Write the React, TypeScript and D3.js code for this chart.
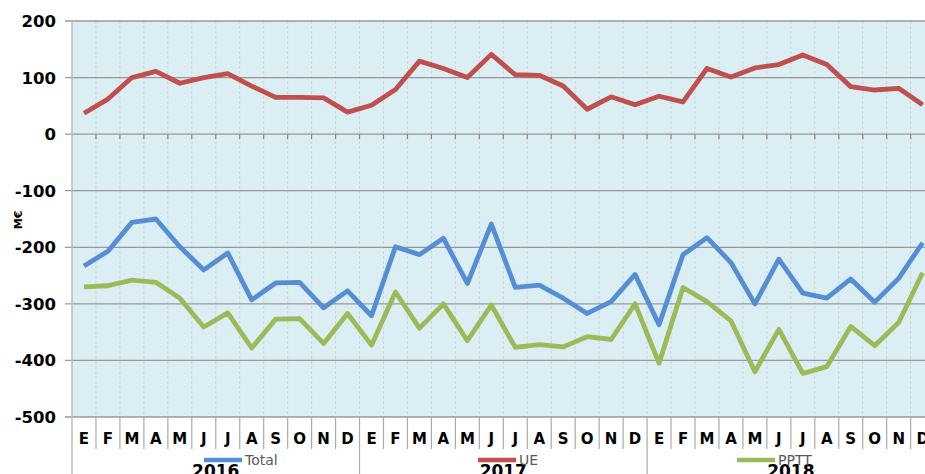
import React from 'react';
import * as d3 from 'd3';

// meses y años
const monthLabels = ['E', 'F', 'M', 'A', 'M', 'J', 'J', 'A', 'S', 'O', 'N', 'D'];
const years = ['2016', '2017', '2018'];
const yTicks = [200, 100, 0, -100, -200, -300, -400, -500];

// valores en M€
const totalValues = [
  -233, -207, -156, -150, -199, -240, -210, -293, -263, -262, -307, -277,
  -321, -199, -213, -184, -264, -159, -271, -267, -290, -317, -296, -248,
  -337, -213, -183, -227, -300, -221, -281, -290, -256, -297, -255, -192,
];
const ueValues = [
  37, 62, 100, 111, 90, 100, 107, 85, 65, 65, 64, 39,
  51, 79, 129, 116, 100, 141, 105, 104, 85, 44, 66, 52,
  67, 57, 116, 101, 117, 123, 140, 123, 84, 78, 81, 52,
];
const ppttValues = [
  -270, -268, -258, -262, -290, -341, -316, -378, -327, -326, -370, -317,
  -373, -279, -343, -300, -365, -302, -377, -372, -376, -358, -363, -300,
  -405, -271, -296, -330, -420, -345, -423, -411, -340, -374, -333, -245,
];

const series = [
  { name: 'Total', values: totalValues, color: '#558ED5', legendX: 204 },
  { name: 'UE', values: ueValues, color: '#C0504D', legendX: 478 },
  { name: 'PPTT', values: ppttValues, color: '#9BBB59', legendX: 737 },
];

const W = 925;
const H = 474;
const left = 72;
const right = 934.6;
const top = 21;
const bottom = 417;

export default function App() {
  const months = d3.range(years.length * monthLabels.length);
  const x = d3.scaleBand<number>().domain(months).range([left, right]);
  const y = d3.scaleLinear().domain([-500, 200]).range([bottom, top]);
  const bw = x.bandwidth();

  const line = d3.line<number>()
    .x((_, i) => (x(i) as number) + bw / 2)
    .y(d => y(d));

  const font = '"DejaVu Sans", Verdana, sans-serif';

  return (
    <svg width={W} height={H} style={{ position: 'absolute', left: 0, top: 0, background: '#fff' }}>
      <rect x={left} y={top} width={right - left} height={bottom - top} fill="#DBEEF4" />

      {/* rejilla vertical */}
      {months.slice(1).map(i => (
        <line key={'vg' + i} x1={x(i)} x2={x(i)} y1={top} y2={bottom}
          stroke="#CDD3D6" strokeWidth={1} strokeDasharray="3,2" />
      ))}

      {/* rejilla horizontal */}
      {yTicks.map(t => (
        <line key={'hg' + t} x1={left - 7} x2={right} y1={y(t)} y2={y(t)}
          stroke="#999" strokeWidth={1.3} />
      ))}

      {/* marcas sobre el eje 0 */}
      {months.slice(1).map(i => (
        <line key={'t0' + i} x1={x(i)} x2={x(i)} y1={y(0)} y2={y(0) + 5}
          stroke="#888" strokeWidth={1.2} />
      ))}

      {/* eje izquierdo */}
      <line x1={left} x2={left} y1={top} y2={H} stroke="#BBB" strokeWidth={1.5} />

      {/* marcas del eje de categorías */}
      {months.slice(1).map(i => (
        <line key={'tb' + i} x1={x(i)} x2={x(i)} y1={bottom} y2={i % 12 === 0 ? H : 449}
          stroke="#AAA" strokeWidth={1.2} />
      ))}

      {/* etiquetas y */}
      {yTicks.map(t => (
        <text key={'yl' + t} x={56} y={y(t)} dy="0.36em" textAnchor="end"
          fontFamily={font} fontWeight="bold" fontSize={16.5} fill="#000">{t}</text>
      ))}
      <text transform="translate(22,220) rotate(-90)" textAnchor="middle"
        fontFamily={font} fontWeight="bold" fontSize={11} fill="#000">M€</text>

      {/* etiquetas de meses */}
      {months.map(i => (
        <text key={'ml' + i} x={(x(i) as number) + bw / 2} y={444} textAnchor="middle"
          fontFamily={font} fontWeight="bold" fontSize={15} fill="#000">{monthLabels[i % 12]}</text>
      ))}

      {/* años */}
      {years.map((yr, j) => (
        <text key={yr} x={(x(j * 12) as number) + bw * 6} y={477} textAnchor="middle"
          fontFamily={font} fontWeight="bold" fontSize={17} fill="#000">{yr}</text>
      ))}

      {/* series */}
      {series.map(s => (
        <path key={s.name} d={line(s.values) || ''} fill="none" stroke={s.color}
          strokeWidth={4.8} strokeLinejoin="round" />
      ))}

      {/* leyenda */}
      {series.map(s => (
        <g key={'lg' + s.name}>
          <line x1={s.legendX} x2={s.legendX + 38} y1={460} y2={460}
            stroke={s.color} strokeWidth={4.5} />
          <text x={s.legendX + 41} y={465} fontFamily={font} fontSize={14} fill="#595959">{s.name}</text>
        </g>
      ))}
    </svg>
  );
}
